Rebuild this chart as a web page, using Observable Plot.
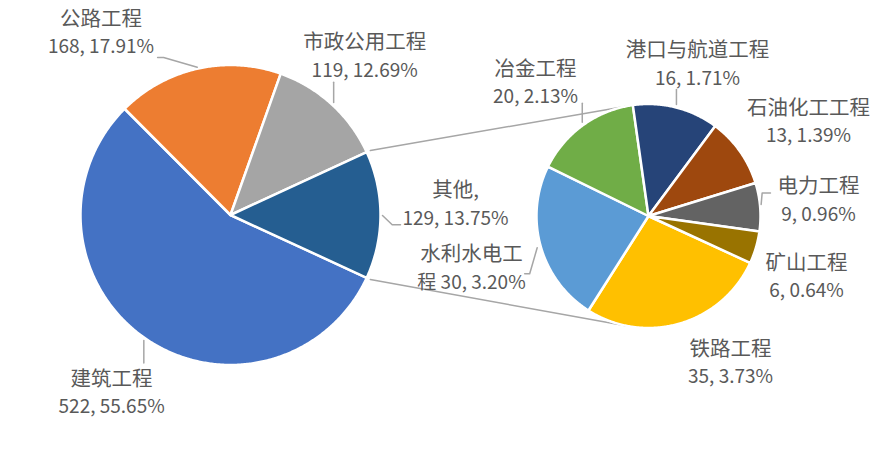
<!DOCTYPE html>
<html>
<head>
<meta charset="utf-8">
<script src="https://cdn.jsdelivr.net/npm/d3@7"></script>
<script src="https://cdn.jsdelivr.net/npm/@observablehq/plot@0.6"></script>
<style>
  body { margin: 0; background: #fff; }
  #chart svg { display: block; }
</style>
</head>
<body>
<div id="chart"></div>
<script>
// Primary pie: project categories; the last one ("其他") is broken out into the secondary pie
const mainNames = ["建筑工程", "公路工程", "市政公用工程", "其他"];
const mainValues = [522, 168, 119, 129];
const mainColors = ["#4472C4", "#ED7D31", "#A5A5A5", "#255E91"];

// Secondary pie: breakdown of "其他"
const subNames = ["铁路工程", "水利水电工程", "冶金工程", "港口与航道工程", "石油化工工程", "电力工程", "矿山工程"];
const subValues = [35, 30, 20, 16, 13, 9, 6];
const subColors = ["#FFC000", "#5B9BD5", "#70AD47", "#264478", "#9E480E", "#636363", "#997300"];

// ---- layout ----
const W = 881, H = 450;
const MAIN = {cx: 230, cy: 214.5, r: 150};
const SUB = {cx: 648, cy: 215.5, r: 112};
const GREY = "#A6A6A6";
const TEXT = "#595959";
const LINE_GAP = 14;          // half the distance between the two label lines
const NAME_SIZE = 20.5, VALUE_SIZE = 19;

// label block offsets from the slice's outer mid point
const labelOffset = {
  "建筑工程": [-33, 55],
  "公路工程": [-96.6, -35.6],
  "市政公用工程": [33, -47.7],
  "其他": [75, -10.5],
  "铁路工程": [50.4, 39.6],
  "水利水电工程": [-69.2, 22.5],
  "冶金工程": [-47.2, -42.3],
  "港口与航道工程": [21.3, -43],
  "石油化工工程": [68.5, -29.3],
  "电力工程": [58.3, -6.7],
  "矿山工程": [50.6, 29.6]
};
// leader line vertices, relative to the slice's outer mid point
const leaderPath = {
  "建筑工程": [[-0.8, 2.5], [-0.8, 25]],
  "公路工程": [[-0.4, -1.4], [-34, -11.1], [-40, -11.1]],
  "市政公用工程": [[2, -1.7], [2, -22]],
  "其他": [[2, 0.5], [11.7, 9.8], [20, 9.8]],
  "水利水电工程": [[-3.5, 1.5], [-11, 27.5], [-16, 27.5]],
  "冶金工程": [[-0.5, -3], [-0.5, -22]],
  "港口与航道工程": [[0.3, -3], [0.3, -18]],
  "电力工程": [[1, -2.7], [2, -14], [10.3, -14]]
};

const total = d3.sum(mainValues);
const pct = v => (v / total * 100).toFixed(2) + "%";
function labelLines(name, v) {
  if (name === "其他") return [`${name},`, `${v}, ${pct(v)}`];
  if (name === "水利水电工程") return [name.slice(0, 5), `${name.slice(5)} ${v}, ${pct(v)}`];
  return [name, `${v}, ${pct(v)}`];
}

// angles clockwise from 12 o'clock; the broken-out slice is centred on 3 o'clock
const otherSweep = 2 * Math.PI * mainValues[3] / total;
const start = Math.PI / 2 + otherSweep / 2;
const pie = d3.pie().sort(null).startAngle(start).endAngle(start + 2 * Math.PI);
const mainArcs = pie(mainValues);
const subArcs = pie(subValues);

const pt = (c, a, rr) => [c.cx + rr * Math.sin(a), c.cy - rr * Math.cos(a)];

const slices = [];
const labels = [];
const leaders = [];
function addPie(c, arcs, names) {
  arcs.forEach((arc, i) => {
    const key = names[i];
    const n = Math.max(2, Math.ceil((arc.endAngle - arc.startAngle) * 180 / Math.PI * 2));
    slices.push({key, x: c.cx, y: c.cy});
    for (let k = 0; k <= n; k++) {
      const [x, y] = pt(c, arc.startAngle + (arc.endAngle - arc.startAngle) * k / n, c.r);
      slices.push({key, x, y});
    }
    slices.push({key, x: c.cx, y: c.cy});
    const [ex, ey] = pt(c, (arc.startAngle + arc.endAngle) / 2, c.r);
    const off = labelOffset[key];
    const [l1, l2] = labelLines(key, arc.value);
    labels.push({key, x: ex + off[0], y: ey + off[1] - LINE_GAP, text: l1, size: NAME_SIZE});
    labels.push({key, x: ex + off[0], y: ey + off[1] + LINE_GAP, text: l2, size: VALUE_SIZE});
    (leaderPath[key] || []).forEach(([dx, dy]) => leaders.push({key, x: ex + dx, y: ey + dy}));
  });
}
addPie(MAIN, mainArcs, mainNames);
addPie(SUB, subArcs, subNames);

// connector lines from the edges of "其他" to tangent points of the secondary pie
const connectors = [];
[[mainArcs[3].startAngle, 1], [mainArcs[3].endAngle, -1]].forEach(([a, sgn], i) => {
  const [px, py] = pt(MAIN, a, MAIN.r + 4);
  const d = Math.hypot(px - SUB.cx, py - SUB.cy);
  const phi = Math.atan2(py - SUB.cy, px - SUB.cx) + sgn * Math.acos(SUB.r / d);
  connectors.push({id: i, x: px, y: py});
  connectors.push({id: i, x: SUB.cx + SUB.r * Math.cos(phi), y: SUB.cy + SUB.r * Math.sin(phi)});
});

const chart = Plot.plot({
  width: W,
  height: H,
  margin: 0,
  x: {domain: [0, W], range: [0, W], axis: null},
  y: {domain: [0, H], range: [0, H], axis: null},
  color: {domain: [...mainNames, ...subNames], range: [...mainColors, ...subColors]},
  style: {background: "#fff", fontFamily: "'Noto Sans CJK SC', 'Noto Sans', sans-serif"},
  marks: [
    Plot.line(connectors, {x: "x", y: "y", z: "id", stroke: GREY, strokeWidth: 1.5}),
    Plot.line(slices, {x: "x", y: "y", z: "key", fill: "key", stroke: "#fff", strokeWidth: 2.5, strokeLinejoin: "round"}),
    Plot.line(leaders, {x: "x", y: "y", z: "key", stroke: GREY, strokeWidth: 1.5}),
    Plot.text(labels, {x: "x", y: "y", text: "text", fill: TEXT, fontSize: "size", textAnchor: "middle"})
  ]
});
document.getElementById("chart").appendChild(chart);
</script>
</body>
</html>
